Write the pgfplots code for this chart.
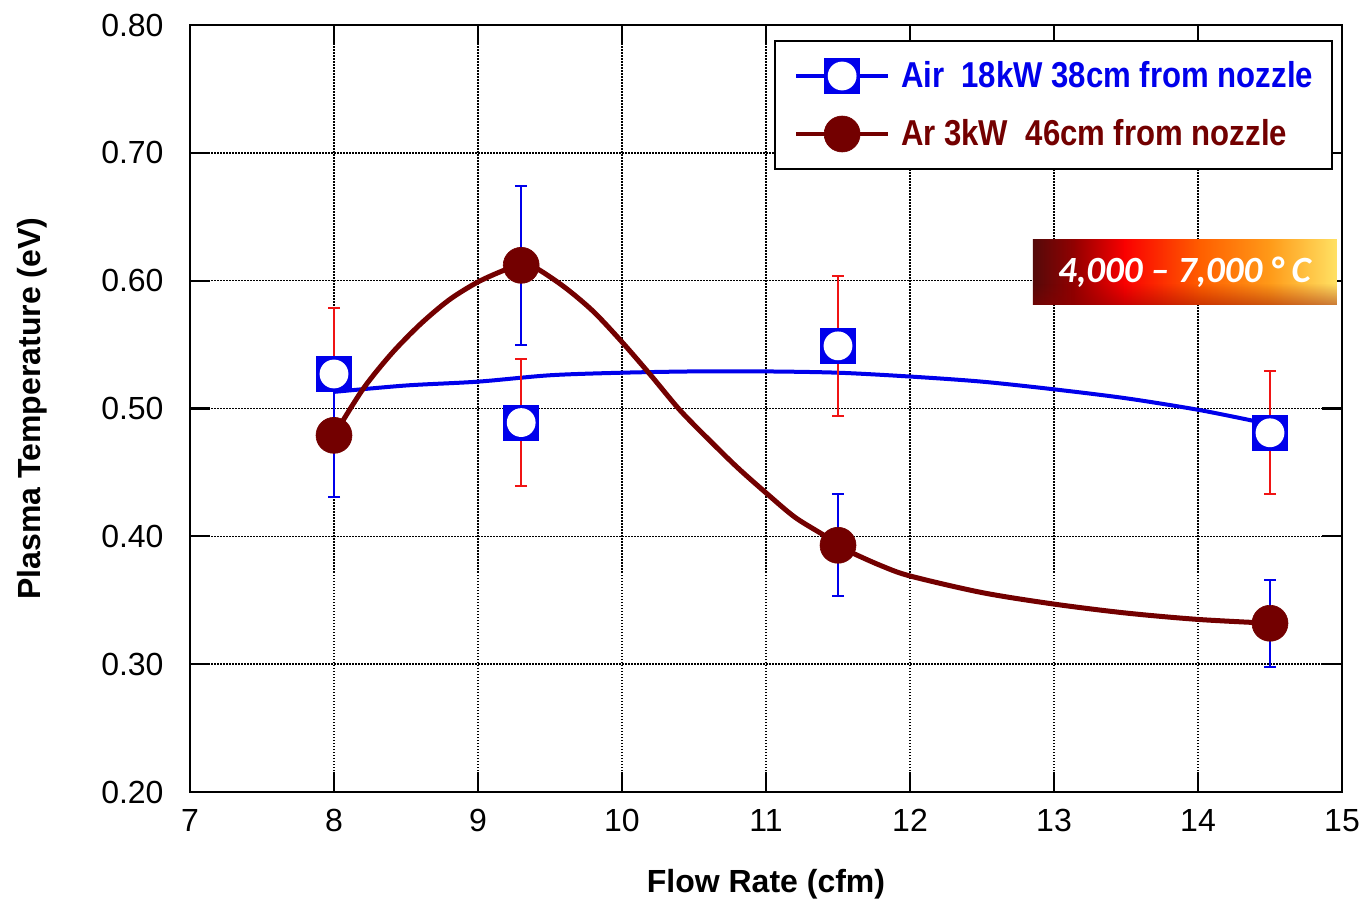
\documentclass[border=0pt]{standalone}
\usepackage{pgfplots}
\pgfplotsset{compat=1.18}
\usepackage{fontspec}
\setmainfont{Liberation Sans}
\newfontfamily\calib{Carlito}
\newfontfamily\legfont[FakeStretch=0.865]{Liberation Sans}
\usetikzlibrary{fadings}

\definecolor{airblue}{RGB}{0,0,235}
\definecolor{arred}{RGB}{115,0,0}
\definecolor{errred}{RGB}{240,20,20}
\definecolor{h1}{RGB}{85,10,10}
\definecolor{h2}{RGB}{150,0,0}
\definecolor{h3}{RGB}{250,0,0}
\definecolor{h4}{RGB}{255,95,0}
\definecolor{h5}{RGB}{255,155,25}
\definecolor{h6}{RGB}{255,225,100}

\pgfdeclareplotmark{sqcirc}{%
  \pgfpathrectangle{\pgfqpoint{-\pgfplotmarksize}{-\pgfplotmarksize}}{\pgfqpoint{2\pgfplotmarksize}{2\pgfplotmarksize}}%
  \pgfusepathqfill
  \begin{pgfscope}%
  \pgfsetfillcolor{white}%
  \pgfpathcircle{\pgfpointorigin}{0.8\pgfplotmarksize}%
  \pgfusepathqfill
  \end{pgfscope}%
}

\pgfplotstableread{
x y e
8 0.527 0.052
9.3 0.489 0.050
11.5 0.549 0.055
14.5 0.481 0.048
}\airdata

\pgfplotstableread{
x y e
8 0.479 0.048
9.3 0.612 0.062
11.5 0.393 0.040
14.5 0.332 0.034
}\ardata

\begin{document}
\begin{tikzpicture}
\begin{axis}[
  scale only axis,
  width=576pt, height=383.5pt,
  xmin=7, xmax=15, ymin=0.2, ymax=0.8,
  xtick={7,8,...,15},
  ytick={0.2,0.3,0.4,0.5,0.6,0.7,0.8},
  yticklabel style={/pgf/number format/fixed, /pgf/number format/fixed zerofill, /pgf/number format/precision=2, /pgf/number format/assume math mode=true, xshift=-9.7pt},
  xticklabel style={/pgf/number format/assume math mode=true, yshift=-5.2pt},
  tick label style={font=\fontsize{16}{18}\selectfont, black},
  tick align=inside,
  major tick length=10pt,
  tick style={black, line width=1.1pt},
  axis line style={black, line width=1.1pt},
  grid=major,
  major grid style={black, line width=0.75pt, dash pattern=on 0.75pt off 0.75pt},
  xlabel={Flow Rate (cfm)},
  ylabel={Plasma Temperature (eV)},
  label style={font=\bfseries\fontsize{16}{18}\selectfont},
  xlabel style={at={([yshift=-50pt]axis description cs:0.5,0)}, anchor=base},
  ylabel style={at={([xshift=-79pt]axis description cs:0,0.5)}, anchor=center},
  legend style={at={(0.99219,0.98044)}, anchor=north east, draw=black, line width=1pt, fill=white,
    inner xsep=9.5pt, inner ysep=8.5pt, row sep=11pt,
    nodes={inner sep=0pt},
    font=\legfont\bfseries\fontsize{18}{20}\selectfont},
  legend cell align=left,
]
\coordinate (SW) at (rel axis cs:0,0);
\coordinate (NE) at (rel axis cs:1,1);

% fitted curve for Air
\addplot[airblue, line width=2pt, smooth, forget plot] coordinates {
(8.0,0.513) (8.5,0.518) (9.0,0.521) (9.5,0.526) (10.0,0.528) (10.5,0.529) (11.0,0.529)
(11.5,0.528) (12.0,0.525) (12.5,0.521) (13.0,0.515) (13.5,0.508) (14.0,0.499) (14.4,0.490)
};
% curve for Ar
\addplot[arred, line width=2.5pt, smooth, forget plot] coordinates {
(8.0,0.479) (8.2,0.515) (8.4,0.543) (8.6,0.566) (8.8,0.585) (9.0,0.599) (9.2,0.609)
(9.3,0.612) (9.4,0.610) (9.6,0.595) (9.8,0.576) (10.0,0.552) (10.2,0.526)
(10.4,0.499) (10.6,0.476) (10.8,0.454) (11.0,0.434) (11.2,0.415) (11.4,0.401) (11.5,0.393)
(11.6,0.387) (11.8,0.377) (12.0,0.369) (12.5,0.356) (13.0,0.347) (13.5,0.340) (14.0,0.335) (14.5,0.332)
};

% error bars
\addplot[only marks, mark=none, forget plot,
  error bars/.cd, y dir=both, y explicit,
  error bar style={line width=1pt, errred},
  error mark options={rotate=90, mark size=3pt, line width=1pt, errred}]
  table[x=x, y=y, y error=e] {\airdata};
\addplot[only marks, mark=none, forget plot,
  error bars/.cd, y dir=both, y explicit,
  error bar style={line width=1pt, airblue},
  error mark options={rotate=90, mark size=3pt, line width=1pt, airblue}]
  table[x=x, y=y, y error=e] {\ardata};

% markers
\addplot[only marks, mark=sqcirc, mark size=9pt, color=airblue, forget plot] table[x=x, y=y] {\airdata};
\addplot[only marks, mark=*, mark size=9pt, color=arred, mark options={line width=0.3pt}, forget plot] table[x=x, y=y] {\ardata};

\addlegendimage{airblue, line width=2pt, mark=sqcirc, mark size=9pt,
  legend image code/.code={\draw[mark repeat=2,mark phase=2] plot coordinates {(0pt,0pt) (23pt,0pt) (46pt,0pt)};}}
\addlegendentry{\hspace{5.5pt}\textcolor{airblue}{Air\ \ 18kW 38cm from nozzle}}
\addlegendimage{arred, line width=2pt, mark=*, mark size=9pt, mark options={line width=0.3pt},
  legend image code/.code={\draw[mark repeat=2,mark phase=2] plot coordinates {(0pt,0pt) (23pt,0pt) (46pt,0pt)};}}
\addlegendentry{\hspace{5.5pt}\textcolor{arred}{Ar 3kW\ \ 46cm from nozzle}}

% temperature annotation (gradient box)
\shade[left color=h1, right color=h2] (axis cs:12.854,0.581) rectangle (axis cs:13.160,0.632);
\shade[left color=h2, right color=h3] (axis cs:13.150,0.581) rectangle (axis cs:13.497,0.632);
\shade[left color=h3, right color=h4] (axis cs:13.487,0.581) rectangle (axis cs:14.025,0.632);
\shade[left color=h4, right color=h5] (axis cs:14.015,0.581) rectangle (axis cs:14.510,0.632);
\shade[left color=h5, right color=h6] (axis cs:14.500,0.581) rectangle (axis cs:14.965,0.632);
\fill[black!45!red, opacity=0.45, path fading=north] (axis cs:12.854,0.581) rectangle (axis cs:14.965,0.598);
\node[white, font=\calib\bfseries\itshape\fontsize{18.5}{20}\selectfont] at (axis cs:13.906,0.6065) {4,000 – 7,000 ° C};
\end{axis}
\pgfresetboundingbox
\path ([shift={(-95pt,-53pt)}]SW) rectangle ([shift={(11.5pt,12.5pt)}]NE);
\end{tikzpicture}
\end{document}
